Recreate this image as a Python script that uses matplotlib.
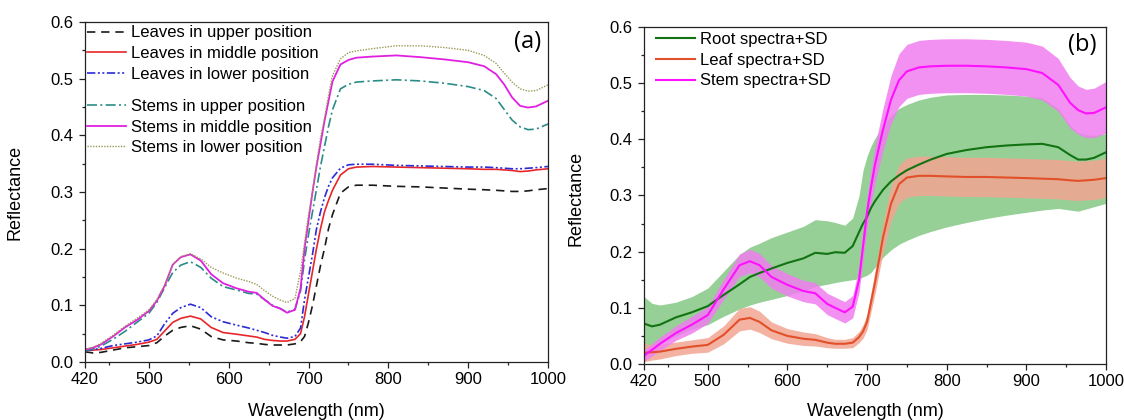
import matplotlib
matplotlib.use("Agg", force=True)
import matplotlib.pyplot as plt
from matplotlib.ticker import FixedLocator, FormatStrFormatter
import numpy as np

plt.rcParams['font.family'] = ['Liberation Sans', 'DejaVu Sans']

# ---- panel (a): mean spectra by position ----
wl_a = [420, 430, 440, 455, 470, 485, 500, 510, 520, 530, 540, 552, 565, 578, 593,
        610, 625, 635, 645, 655, 665, 673, 683, 690, 695, 700, 705, 710, 715, 720,
        725, 730, 740, 750, 760, 780, 810, 840, 870, 900, 920, 935, 945, 955, 965,
        975, 985, 1000]

leaves_upper = [0.018, 0.016, 0.017, 0.021, 0.025, 0.027, 0.029, 0.034, 0.046, 0.056, 0.061, 0.064,
                0.058, 0.045, 0.039, 0.037, 0.034, 0.033, 0.031, 0.030, 0.030, 0.030, 0.032, 0.036,
                0.045, 0.070, 0.100, 0.135, 0.170, 0.200, 0.235, 0.260, 0.298, 0.309, 0.312, 0.312,
                0.310, 0.309, 0.307, 0.305, 0.304, 0.303, 0.302, 0.301, 0.301, 0.302, 0.304, 0.306]
leaves_middle = [0.020, 0.021, 0.022, 0.025, 0.028, 0.031, 0.035, 0.040, 0.055, 0.070, 0.077, 0.081,
                 0.076, 0.061, 0.052, 0.049, 0.046, 0.044, 0.040, 0.038, 0.037, 0.037, 0.040, 0.050,
                 0.080, 0.120, 0.160, 0.200, 0.235, 0.265, 0.285, 0.303, 0.330, 0.341, 0.344, 0.345,
                 0.344, 0.343, 0.342, 0.341, 0.340, 0.340, 0.339, 0.338, 0.336, 0.337, 0.339, 0.341]
leaves_lower = [0.020, 0.022, 0.024, 0.029, 0.032, 0.035, 0.039, 0.046, 0.068, 0.086, 0.096, 0.102,
                0.096, 0.080, 0.071, 0.065, 0.060, 0.056, 0.052, 0.047, 0.044, 0.042, 0.045, 0.060,
                0.110, 0.150, 0.190, 0.235, 0.265, 0.290, 0.310, 0.325, 0.342, 0.348, 0.349, 0.349,
                0.347, 0.346, 0.345, 0.344, 0.344, 0.343, 0.342, 0.341, 0.341, 0.342, 0.343, 0.345]
stems_upper = [0.020, 0.023, 0.028, 0.040, 0.054, 0.070, 0.086, 0.105, 0.132, 0.158, 0.171, 0.177,
               0.167, 0.148, 0.133, 0.127, 0.121, 0.120, 0.110, 0.100, 0.094, 0.088, 0.093, 0.125,
               0.180, 0.225, 0.265, 0.305, 0.345, 0.380, 0.415, 0.445, 0.482, 0.490, 0.494, 0.496,
               0.498, 0.496, 0.492, 0.486, 0.479, 0.465, 0.446, 0.427, 0.415, 0.410, 0.411, 0.420]
stems_middle = [0.022, 0.025, 0.031, 0.045, 0.061, 0.074, 0.090, 0.108, 0.135, 0.172, 0.185, 0.190,
                0.179, 0.155, 0.139, 0.130, 0.124, 0.122, 0.110, 0.099, 0.094, 0.087, 0.092, 0.130,
                0.200, 0.250, 0.300, 0.345, 0.385, 0.425, 0.460, 0.495, 0.525, 0.533, 0.537, 0.539,
                0.541, 0.538, 0.534, 0.529, 0.522, 0.508, 0.490, 0.467, 0.452, 0.449, 0.451, 0.461]
stems_lower = [0.022, 0.026, 0.033, 0.047, 0.063, 0.077, 0.092, 0.110, 0.137, 0.172, 0.186, 0.191,
               0.182, 0.167, 0.157, 0.148, 0.142, 0.137, 0.126, 0.116, 0.109, 0.105, 0.112, 0.160,
               0.210, 0.260, 0.300, 0.350, 0.395, 0.430, 0.470, 0.505, 0.535, 0.546, 0.549, 0.553,
               0.558, 0.558, 0.555, 0.550, 0.541, 0.527, 0.510, 0.494, 0.482, 0.478, 0.479, 0.489]

# ---- panel (b): organ mean spectra with SD band ----
wl_b = [420, 430, 440, 460, 480, 500, 520, 540, 553, 565, 580, 600, 620, 635, 650, 660,
        672, 682, 690, 695, 700, 705, 710, 720, 730, 740, 750, 765, 780, 800, 825, 850,
        875, 900, 920, 940, 955, 965, 975, 985, 1000]

root_mean = [0.072, 0.067, 0.070, 0.083, 0.092, 0.103, 0.123, 0.142, 0.155, 0.162, 0.170, 0.180,
             0.188, 0.198, 0.196, 0.199, 0.198, 0.210, 0.235, 0.250, 0.262, 0.278, 0.290, 0.310,
             0.325, 0.336, 0.345, 0.355, 0.364, 0.374, 0.381, 0.386, 0.389, 0.391, 0.392, 0.386,
             0.372, 0.364, 0.364, 0.367, 0.377]
root_hi = [0.120, 0.108, 0.105, 0.110, 0.120, 0.135, 0.165, 0.195, 0.208, 0.215, 0.225, 0.235,
           0.245, 0.257, 0.255, 0.252, 0.247, 0.260, 0.300, 0.345, 0.370, 0.388, 0.402, 0.425,
           0.442, 0.455, 0.462, 0.470, 0.475, 0.479, 0.480, 0.480, 0.479, 0.477, 0.474, 0.455,
           0.425, 0.412, 0.408, 0.407, 0.410]
root_lo = [0.025, 0.027, 0.035, 0.050, 0.062, 0.070, 0.085, 0.098, 0.105, 0.110, 0.115, 0.122,
           0.130, 0.138, 0.142, 0.145, 0.148, 0.150, 0.152, 0.155, 0.158, 0.163, 0.172, 0.190,
           0.203, 0.213, 0.220, 0.229, 0.236, 0.244, 0.252, 0.259, 0.265, 0.270, 0.274, 0.277,
           0.274, 0.272, 0.276, 0.280, 0.286]

leaf_mean = [0.020, 0.021, 0.022, 0.027, 0.031, 0.034, 0.052, 0.079, 0.082, 0.075, 0.060, 0.050,
             0.045, 0.043, 0.038, 0.036, 0.036, 0.038, 0.048, 0.058, 0.075, 0.110, 0.145, 0.225,
             0.285, 0.320, 0.332, 0.335, 0.335, 0.334, 0.333, 0.333, 0.332, 0.331, 0.330, 0.329,
             0.327, 0.326, 0.327, 0.328, 0.331]
leaf_sd = [0.016, 0.014, 0.013, 0.012, 0.012, 0.013, 0.016, 0.020, 0.020, 0.019, 0.015, 0.013,
           0.012, 0.011, 0.009, 0.008, 0.008, 0.009, 0.010, 0.012, 0.014, 0.017, 0.020, 0.027,
           0.032, 0.034, 0.035, 0.035, 0.035, 0.035, 0.035, 0.035, 0.035, 0.035, 0.035, 0.035,
           0.035, 0.035, 0.035, 0.035, 0.035]

stem_mean = [0.015, 0.025, 0.036, 0.055, 0.070, 0.087, 0.133, 0.176, 0.183, 0.176, 0.155, 0.141,
             0.130, 0.126, 0.107, 0.100, 0.092, 0.102, 0.150, 0.210, 0.270, 0.315, 0.355, 0.417,
             0.470, 0.505, 0.521, 0.528, 0.530, 0.531, 0.531, 0.530, 0.528, 0.525, 0.518, 0.497,
             0.465, 0.452, 0.446, 0.447, 0.457]
stem_sd = [0.010, 0.011, 0.012, 0.013, 0.015, 0.015, 0.018, 0.020, 0.021, 0.021, 0.020, 0.020,
           0.019, 0.019, 0.019, 0.019, 0.019, 0.020, 0.022, 0.025, 0.028, 0.030, 0.033, 0.038,
           0.043, 0.047, 0.048, 0.048, 0.048, 0.048, 0.048, 0.048, 0.048, 0.048, 0.048, 0.047,
           0.045, 0.043, 0.043, 0.044, 0.046]

x_major = [420, 500, 600, 700, 800, 900, 1000]
x_minor = [450, 550, 650, 750, 850, 950]


def style_axes(ax):
    ax.set_xlim(420, 1000)
    ax.set_ylim(0.0, 0.6)
    ax.xaxis.set_major_locator(FixedLocator(x_major))
    ax.xaxis.set_minor_locator(FixedLocator(x_minor))
    ax.yaxis.set_major_locator(FixedLocator(np.arange(0, 0.61, 0.1)))
    ax.yaxis.set_minor_locator(FixedLocator(np.arange(0.05, 0.6, 0.1)))
    ax.yaxis.set_major_formatter(FormatStrFormatter('%.1f'))
    ax.tick_params(which='both', direction='out', top=False, right=False,
                   labelsize=12, width=0.9, color='#222222')
    ax.tick_params(axis='x', which='major', length=4.5, pad=3)
    ax.tick_params(axis='y', which='major', length=4.5, pad=4)
    ax.tick_params(which='minor', length=2.5)
    for s in ax.spines.values():
        s.set_linewidth(0.9)
        s.set_color('#222222')
    ax.set_xlabel('Wavelength (nm)', fontsize=13)
    ax.set_ylabel('Reflectance', fontsize=13)


fig = plt.figure(figsize=(11.24, 4.2), dpi=100)
ax1 = fig.add_axes([85 / 1124, 1 - 362 / 420, 463 / 1124, 340 / 420])
ax2 = fig.add_axes([644 / 1124, 1 - 364 / 420, 462 / 1124, 337 / 420])

# panel (a)
l1, = ax1.plot(wl_a, leaves_upper, color='#1a1a1a', lw=1.2, ls=(0, (5, 3.5)))
l2, = ax1.plot(wl_a, leaves_middle, color='#e8262a', lw=1.2)
l3, = ax1.plot(wl_a, leaves_lower, color='#2b2bd6', lw=1.2, ls=(0, (5, 1.5, 1.2, 1.5, 1.2, 1.5)))
l4, = ax1.plot(wl_a, stems_upper, color='#2a8c86', lw=1.2, ls=(0, (6, 2, 1.2, 2)))
l5, = ax1.plot(wl_a, stems_middle, color='#e020e0', lw=1.3)
l6, = ax1.plot(wl_a, stems_lower, color='#9a9a55', lw=1.0, ls=(0, (1, 1)))
style_axes(ax1)

leg_kw = dict(frameon=False, fontsize=12, handlelength=2.35, handletextpad=0.3,
              labelspacing=0.34, borderaxespad=0.0, borderpad=0.0)
leg1 = ax1.legend([l1, l2, l3],
                  ['Leaves in upper position', 'Leaves in middle position', 'Leaves in lower position'],
                  loc='upper left', bbox_to_anchor=(0.005, 0.99), **leg_kw)
ax1.add_artist(leg1)
ax1.legend([l4, l5, l6],
           ['Stems in upper position', 'Stems in middle position', 'Stems in lower position'],
           loc='upper left', bbox_to_anchor=(0.005, 0.774), **leg_kw)
ax1.text(0.955, 0.94, '(a)', transform=ax1.transAxes, ha='center', va='center',
         fontsize=17, family=['Open Sans', 'DejaVu Sans'])

# panel (b)
root_mean = np.array(root_mean)
leaf_mean = np.array(leaf_mean)
stem_mean = np.array(stem_mean)
ax2.fill_between(wl_b, root_lo, root_hi, color='#8ccb8c', alpha=0.9, lw=0)
ax2.fill_between(wl_b, leaf_mean - np.array(leaf_sd), leaf_mean + np.array(leaf_sd),
                 color='#f2a592', alpha=0.85, lw=0)
ax2.fill_between(wl_b, stem_mean - np.array(stem_sd), stem_mean + np.array(stem_sd),
                 color='#f07ef0', alpha=0.85, lw=0)
r1, = ax2.plot(wl_b, root_mean, color='#127312', lw=1.5)
r2, = ax2.plot(wl_b, leaf_mean, color='#e2502a', lw=1.5)
r3, = ax2.plot(wl_b, stem_mean, color='#ff10ff', lw=1.5)
style_axes(ax2)
ax2.legend([r1, r2, r3], ['Root spectra+SD', 'Leaf spectra+SD', 'Stem spectra+SD'],
           loc='upper left', bbox_to_anchor=(0.025, 0.985), **leg_kw)
ax2.text(0.948, 0.947, '(b)', transform=ax2.transAxes, ha='center', va='center',
         fontsize=17, family=['Open Sans', 'DejaVu Sans'])

ax1.xaxis.set_label_coords(0.5, -0.122)
ax1.yaxis.set_label_coords(-0.132, 0.5)
ax2.xaxis.set_label_coords(0.5, -0.116)
ax2.yaxis.set_label_coords(-0.128, 0.49)

fig.savefig('out.png', dpi=100, facecolor='white')
plt.close(fig)
